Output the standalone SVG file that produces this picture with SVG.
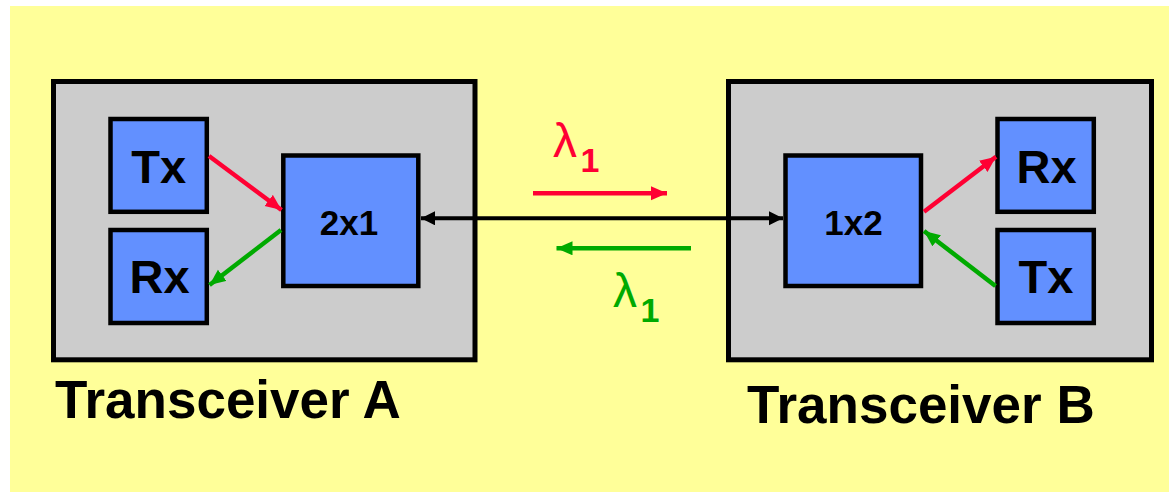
<svg xmlns="http://www.w3.org/2000/svg" width="1169" height="492" viewBox="0 0 1169 492">
<style>
.outer{fill:#CCCCCC;stroke:#000;stroke-width:5}
.blk{fill:#6290FF;stroke:#000;stroke-width:4.5}
.t{font-family:"Liberation Sans",Arial,sans-serif;font-weight:bold;fill:#000;text-anchor:middle}
.big{font-size:47px}
.mid{font-size:35px}
.title{font-size:53px;text-anchor:start}
.lam{font-family:"Liberation Sans",Arial,sans-serif;font-weight:normal;font-size:48px}
.sub{font-size:34px;font-weight:bold}
</style>
<defs>
<marker id="ahR" markerUnits="userSpaceOnUse" markerWidth="18" markerHeight="16" refX="16" refY="7" orient="auto"><path d="M0,0 L16,7 L0,14 z" fill="#FF0033"/></marker>
<marker id="ahG" markerUnits="userSpaceOnUse" markerWidth="18" markerHeight="16" refX="16" refY="7" orient="auto"><path d="M0,0 L16,7 L0,14 z" fill="#00AA00"/></marker>
<marker id="ahK" markerUnits="userSpaceOnUse" markerWidth="18" markerHeight="16" refX="14" refY="7" orient="auto-start-reverse"><path d="M0,0 L14,7 L0,14 z" fill="#000"/></marker>
</defs>
<rect x="10" y="6" width="1159" height="486" fill="#FFFF99"/>
<g id="transceiverA">
<rect class="outer" x="53.5" y="81.5" width="421.5" height="278.3"/>
<text class="t title" x="55" y="418">Transceiver A</text>
</g>
<g id="transceiverB">
<rect class="outer" x="728.5" y="81.5" width="423" height="278.3"/>
<text class="t title" x="747" y="422.5">Transceiver B</text>
</g>
<g id="txA"><rect class="blk" x="110.5" y="119" width="96.3" height="92.8"/><text class="t big" x="158.7" y="183.3">Tx</text></g>
<g id="rxA"><rect class="blk" x="110.5" y="230" width="96.3" height="93"/><text class="t big" x="159.5" y="293.3">Rx</text></g>
<g id="coupler2x1"><rect class="blk" x="283.3" y="155.5" width="135" height="130.5"/><text class="t mid" x="349" y="235">2x1</text></g>
<g id="coupler1x2"><rect class="blk" x="785.5" y="155.5" width="135.5" height="130.5"/><text class="t mid" x="853.5" y="235">1x2</text></g>
<g id="rxB"><rect class="blk" x="997.5" y="119" width="96.3" height="92.8"/><text class="t big" x="1046.5" y="183.3">Rx</text></g>
<g id="txB"><rect class="blk" x="997.5" y="230" width="96.3" height="93"/><text class="t big" x="1046" y="293.3">Tx</text></g>
<g id="connectors" fill="none">
<line x1="209" y1="156" x2="281.5" y2="210" stroke="#FF0033" stroke-width="4.5" marker-end="url(#ahR)"/>
<line x1="281" y1="230" x2="209.5" y2="285" stroke="#00AA00" stroke-width="4.5" marker-end="url(#ahG)"/>
<line x1="924" y1="211.7" x2="996" y2="156.7" stroke="#FF0033" stroke-width="4.5" marker-end="url(#ahR)"/>
<line x1="995.5" y1="286" x2="924" y2="231" stroke="#00AA00" stroke-width="4.5" marker-end="url(#ahG)"/>
<line x1="421" y1="218.3" x2="783" y2="218.3" stroke="#000" stroke-width="4" marker-start="url(#ahK)" marker-end="url(#ahK)"/>
<line x1="533" y1="193.3" x2="667" y2="193.3" stroke="#FF0033" stroke-width="4.5" marker-end="url(#ahR)"/>
<line x1="691" y1="248.3" x2="556.5" y2="248.3" stroke="#00AA00" stroke-width="4.5" marker-end="url(#ahG)"/>
</g>
<g id="labels">
<text class="lam" x="553" y="157" fill="#FF0033">λ<tspan class="sub" x="580.5" y="171.7">1</tspan></text>
<text class="lam" x="613" y="307" fill="#00AA00">λ<tspan class="sub" x="640.5" y="321.7">1</tspan></text>
</g>
</svg>
